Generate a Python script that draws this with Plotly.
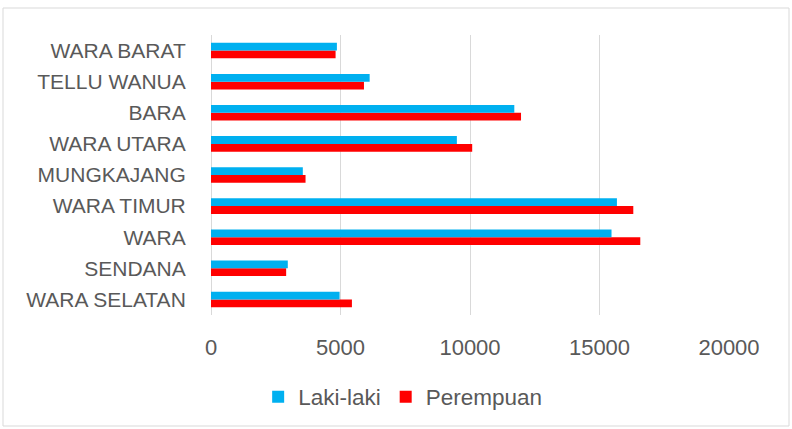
import plotly.graph_objects as go

categories = ["WARA SELATAN", "SENDANA", "WARA", "WARA TIMUR", "MUNGKAJANG",
              "WARA UTARA", "BARA", "TELLU WANUA", "WARA BARAT"]
laki_laki = [4965, 2965, 15464, 15673, 3545, 9493, 11711, 6126, 4861]
perempuan = [5441, 2902, 16575, 16305, 3650, 10085, 11970, 5906, 4810]
x_ticks = [0, 5000, 10000, 15000, 20000]

FONT = "Liberation Sans"
GREY = "#595959"

fig = go.Figure()
fig.add_trace(go.Bar(y=categories, x=perempuan, name="Perempuan", orientation="h",
                     marker=dict(color="#FF0000", line=dict(width=0)), legendrank=2))
fig.add_trace(go.Bar(y=categories, x=laki_laki, name="Laki-laki", orientation="h",
                     marker=dict(color="#00B0F0", line=dict(width=0)), legendrank=1))

fig.update_layout(
    width=792, height=429,
    margin=dict(l=211, r=63, t=35, b=114, autoexpand=False),
    paper_bgcolor="white", plot_bgcolor="white",
    barmode="group", bargap=0.5, bargroupgap=0,
    font=dict(family=FONT, color=GREY, size=21),
    showlegend=True,
    legend=dict(orientation="h", x=0.37, xanchor="center", y=-0.293, yanchor="middle",
                font=dict(size=22.5, color=GREY), itemwidth=30, traceorder="normal"),
    xaxis=dict(range=[0, 20000], tickvals=x_ticks, ticktext=[str(v) for v in x_ticks],
               showgrid=True, gridcolor="#d9d9d9", gridwidth=1,
               zeroline=True, zerolinecolor="#d9d9d9", zerolinewidth=1,
               showline=False, ticks="outside", ticklen=13, tickcolor="rgba(0,0,0,0)",
               tickfont=dict(size=22, color=GREY), fixedrange=True, automargin=False),
    yaxis=dict(categoryorder="array", categoryarray=categories, showgrid=False,
               showline=False, ticks="outside", ticklen=20, tickcolor="rgba(0,0,0,0)",
               tickfont=dict(size=21, color=GREY), fixedrange=True, automargin=False),
    shapes=[dict(type="rect", xref="paper", yref="paper",
                 x0=(3 - 211) / 518, x1=(789 - 211) / 518,
                 y0=(315 - 426) / 280, y1=(315 - 8) / 280,
                 line=dict(color="#d9d9d9", width=1), fillcolor="rgba(0,0,0,0)", layer="below")],
)

fig.write_html("out.html", config={"displayModeBar": False},
               post_script="document.body.style.margin='0';document.body.style.padding='0';")
